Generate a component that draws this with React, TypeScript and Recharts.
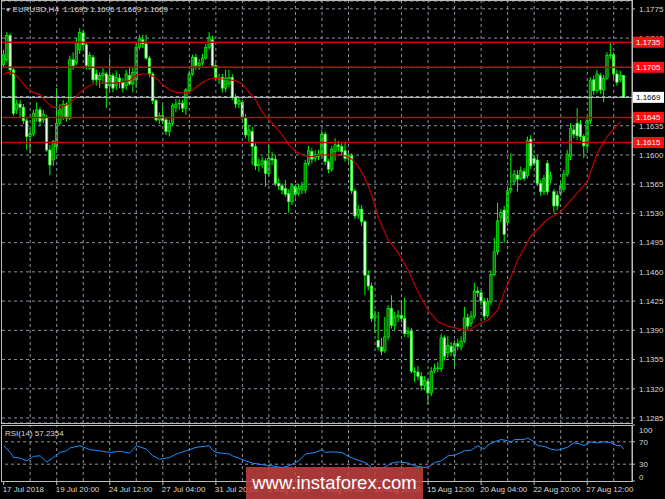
import {
  ComposedChart,
  Bar,
  Line,
  XAxis,
  YAxis,
  CartesianGrid,
  ReferenceLine,
} from "recharts";

const FONT = '"Liberation Sans", Arial, sans-serif';

// EURUSD H4 candles, first bar = 17 Jul 2018 04:00
const opens = [
  1.1708, 1.1714, 1.1743, 1.1702, 1.1654, 1.1661, 1.1657, 1.1641, 1.1622, 1.1625,
  1.1644, 1.1654, 1.1642, 1.1645, 1.1606, 1.1594, 1.1610, 1.1638, 1.1645, 1.1661,
  1.1644, 1.1714, 1.1711, 1.1726, 1.1746, 1.1732, 1.1704, 1.1717, 1.1697, 1.1690,
  1.1695, 1.1697, 1.1683, 1.1695, 1.1683, 1.1692, 1.1687, 1.1683, 1.1695, 1.1685,
  1.1690, 1.1729, 1.1738, 1.1733, 1.1716, 1.1697, 1.1665, 1.1642, 1.1647, 1.1642,
  1.1628, 1.1638, 1.1657, 1.1661, 1.1662, 1.1656, 1.1677, 1.1697, 1.1717, 1.1707,
  1.1710, 1.1716, 1.1729, 1.1738, 1.1707, 1.1692, 1.1693, 1.1680, 1.1685, 1.1693,
  1.1669, 1.1661, 1.1663, 1.1645, 1.1624, 1.1628, 1.1610, 1.1587, 1.1589, 1.1593,
  1.1578, 1.1596, 1.1595, 1.1566, 1.1563, 1.1560, 1.1554, 1.1544, 1.1562, 1.1554,
  1.1558, 1.1558, 1.1590, 1.1604, 1.1596, 1.1598, 1.1601, 1.1625, 1.1592, 1.1583,
  1.1604, 1.1612, 1.1610, 1.1605, 1.1596, 1.1599, 1.1557, 1.1528, 1.1535, 1.1520,
  1.1456, 1.1443, 1.1405, 1.1378, 1.1370, 1.1366, 1.1382, 1.1416, 1.1396, 1.1406,
  1.1408, 1.1404, 1.1386, 1.1389, 1.1341, 1.1340, 1.1335, 1.1324, 1.1329, 1.1315,
  1.1342, 1.1344, 1.1344, 1.1381, 1.1363, 1.1371, 1.1359, 1.1374, 1.1370, 1.1377,
  1.1405, 1.1398, 1.1407, 1.1437, 1.1435, 1.1425, 1.1408, 1.1424, 1.1457, 1.1484,
  1.1525, 1.1534, 1.1519, 1.1558, 1.1568, 1.1576, 1.1572, 1.1580, 1.1575, 1.1619,
  1.1596, 1.1594, 1.1566, 1.1556, 1.1590, 1.1571, 1.1556, 1.1552, 1.1554, 1.1559,
  1.1577, 1.1598, 1.1630, 1.1638, 1.1637, 1.1622, 1.1611, 1.1641, 1.1690, 1.1677,
  1.1695, 1.1678, 1.1692, 1.1719, 1.1720, 1.1697, 1.1690, 1.1695,
];

const highs = [
  1.1726, 1.1747, 1.1746, 1.1704, 1.1666, 1.1666, 1.1661, 1.1644, 1.1632, 1.1654,
  1.1663, 1.1657, 1.1654, 1.1648, 1.1612, 1.1618, 1.1680, 1.1661, 1.1666, 1.1663,
  1.1719, 1.1723, 1.1740, 1.1752, 1.1750, 1.1735, 1.1723, 1.1720, 1.1702, 1.1699,
  1.1704, 1.1699, 1.1717, 1.1698, 1.1701, 1.1697, 1.1692, 1.1702, 1.1704, 1.1704,
  1.1733, 1.1744, 1.1744, 1.1744, 1.1719, 1.1699, 1.1667, 1.1651, 1.1660, 1.1645,
  1.1642, 1.1662, 1.1667, 1.1667, 1.1666, 1.1680, 1.1701, 1.1720, 1.1721, 1.1715,
  1.1721, 1.1733, 1.1747, 1.1743, 1.1710, 1.1697, 1.1697, 1.1702, 1.1702, 1.1697,
  1.1673, 1.1669, 1.1666, 1.1649, 1.1635, 1.1634, 1.1614, 1.1596, 1.1598, 1.1596,
  1.1612, 1.1604, 1.1600, 1.1572, 1.1566, 1.1570, 1.1559, 1.1566, 1.1565, 1.1565,
  1.1568, 1.1594, 1.1611, 1.1608, 1.1606, 1.1606, 1.1630, 1.1628, 1.1595, 1.1611,
  1.1620, 1.1617, 1.1614, 1.1616, 1.1604, 1.1602, 1.1560, 1.1540, 1.1540, 1.1522,
  1.1462, 1.1447, 1.1414, 1.1412, 1.1381, 1.1406, 1.1420, 1.1432, 1.1412, 1.1414,
  1.1424, 1.1429, 1.1394, 1.1393, 1.1346, 1.1347, 1.1340, 1.1335, 1.1332, 1.1346,
  1.1350, 1.1352, 1.1386, 1.1384, 1.1383, 1.1376, 1.1378, 1.1380, 1.1383, 1.1418,
  1.1410, 1.1413, 1.1447, 1.1442, 1.1438, 1.1429, 1.1429, 1.1462, 1.1501, 1.1543,
  1.1535, 1.1539, 1.1562, 1.1602, 1.1582, 1.1582, 1.1586, 1.1584, 1.1622, 1.1624,
  1.1601, 1.1599, 1.1570, 1.1576, 1.1594, 1.1580, 1.1559, 1.1557, 1.1568, 1.1582,
  1.1606, 1.1638, 1.1635, 1.1656, 1.1642, 1.1625, 1.1645, 1.1693, 1.1695, 1.1702,
  1.1698, 1.1696, 1.1723, 1.1735, 1.1723, 1.1702, 1.1701, 1.1696,
];

const lows = [
  1.1704, 1.1711, 1.1696, 1.1647, 1.1649, 1.1645, 1.1637, 1.1606, 1.1602, 1.1622,
  1.1640, 1.1635, 1.1638, 1.1604, 1.1576, 1.1587, 1.1606, 1.1635, 1.1642, 1.1640,
  1.1642, 1.1702, 1.1708, 1.1721, 1.1728, 1.1702, 1.1702, 1.1686, 1.1683, 1.1680,
  1.1687, 1.1656, 1.1678, 1.1675, 1.1678, 1.1680, 1.1675, 1.1678, 1.1683, 1.1675,
  1.1680, 1.1726, 1.1728, 1.1714, 1.1693, 1.1661, 1.1640, 1.1637, 1.1637, 1.1624,
  1.1622, 1.1635, 1.1651, 1.1654, 1.1651, 1.1648, 1.1673, 1.1695, 1.1702, 1.1702,
  1.1707, 1.1714, 1.1726, 1.1704, 1.1689, 1.1685, 1.1675, 1.1675, 1.1681, 1.1666,
  1.1656, 1.1656, 1.1642, 1.1620, 1.1616, 1.1588, 1.1582, 1.1580, 1.1584, 1.1562,
  1.1575, 1.1588, 1.1563, 1.1558, 1.1553, 1.1550, 1.1531, 1.1540, 1.1549, 1.1551,
  1.1553, 1.1554, 1.1587, 1.1590, 1.1592, 1.1594, 1.1598, 1.1588, 1.1578, 1.1580,
  1.1593, 1.1604, 1.1599, 1.1592, 1.1592, 1.1553, 1.1523, 1.1523, 1.1515, 1.1432,
  1.1438, 1.1400, 1.1387, 1.1366, 1.1360, 1.1363, 1.1378, 1.1392, 1.1390, 1.1400,
  1.1399, 1.1382, 1.1381, 1.1338, 1.1328, 1.1330, 1.1318, 1.1318, 1.1301, 1.1311,
  1.1339, 1.1340, 1.1340, 1.1354, 1.1357, 1.1359, 1.1346, 1.1366, 1.1366, 1.1375,
  1.1390, 1.1394, 1.1404, 1.1430, 1.1420, 1.1402, 1.1405, 1.1420, 1.1455, 1.1480,
  1.1520, 1.1495, 1.1515, 1.1554, 1.1564, 1.1556, 1.1570, 1.1569, 1.1572, 1.1583,
  1.1587, 1.1563, 1.1551, 1.1552, 1.1552, 1.1566, 1.1531, 1.1534, 1.1551, 1.1556,
  1.1574, 1.1594, 1.1620, 1.1618, 1.1617, 1.1596, 1.1606, 1.1637, 1.1672, 1.1674,
  1.1673, 1.1663, 1.1690, 1.1715, 1.1692, 1.1683, 1.1687, 1.1669,
];

const closes = [
  1.1720, 1.1743, 1.1702, 1.1650, 1.1661, 1.1657, 1.1641, 1.1622, 1.1625, 1.1650,
  1.1654, 1.1640, 1.1649, 1.1606, 1.1588, 1.1616, 1.1638, 1.1654, 1.1661, 1.1644,
  1.1714, 1.1707, 1.1735, 1.1747, 1.1732, 1.1707, 1.1719, 1.1690, 1.1690, 1.1695,
  1.1698, 1.1680, 1.1695, 1.1680, 1.1693, 1.1687, 1.1680, 1.1697, 1.1685, 1.1699,
  1.1729, 1.1739, 1.1733, 1.1716, 1.1697, 1.1665, 1.1642, 1.1647, 1.1641, 1.1628,
  1.1638, 1.1659, 1.1661, 1.1662, 1.1656, 1.1678, 1.1697, 1.1717, 1.1707, 1.1710,
  1.1716, 1.1729, 1.1741, 1.1707, 1.1692, 1.1691, 1.1680, 1.1692, 1.1693, 1.1669,
  1.1661, 1.1665, 1.1645, 1.1624, 1.1630, 1.1610, 1.1587, 1.1589, 1.1593, 1.1578,
  1.1596, 1.1594, 1.1566, 1.1563, 1.1558, 1.1553, 1.1544, 1.1563, 1.1553, 1.1560,
  1.1563, 1.1590, 1.1605, 1.1595, 1.1600, 1.1601, 1.1625, 1.1592, 1.1583, 1.1607,
  1.1612, 1.1610, 1.1604, 1.1596, 1.1599, 1.1557, 1.1527, 1.1535, 1.1520, 1.1456,
  1.1443, 1.1404, 1.1408, 1.1370, 1.1365, 1.1382, 1.1416, 1.1396, 1.1406, 1.1408,
  1.1404, 1.1386, 1.1389, 1.1341, 1.1340, 1.1335, 1.1324, 1.1330, 1.1315, 1.1341,
  1.1344, 1.1345, 1.1381, 1.1359, 1.1372, 1.1364, 1.1374, 1.1371, 1.1377, 1.1405,
  1.1395, 1.1407, 1.1437, 1.1435, 1.1425, 1.1407, 1.1424, 1.1457, 1.1484, 1.1521,
  1.1531, 1.1505, 1.1557, 1.1560, 1.1577, 1.1571, 1.1581, 1.1572, 1.1617, 1.1587,
  1.1590, 1.1566, 1.1556, 1.1572, 1.1556, 1.1575, 1.1539, 1.1539, 1.1563, 1.1577,
  1.1601, 1.1632, 1.1625, 1.1623, 1.1622, 1.1611, 1.1641, 1.1689, 1.1677, 1.1697,
  1.1678, 1.1692, 1.1719, 1.1720, 1.1697, 1.1687, 1.1695, 1.1669,
];

// red moving average at these bars
const maBars = [
  0, 1, 3, 5, 7, 9, 11, 13, 15, 17, 19, 21, 23, 25, 27, 29, 31, 33, 35, 38,
  40, 42, 44, 46, 48, 50, 52, 54, 56, 58, 60, 62, 64, 66, 68, 70, 72, 74, 76, 78,
  81, 84, 86, 88, 91, 93, 95, 98, 101, 103, 105, 107, 109, 111, 113, 116, 119, 122, 125, 128,
  131, 134, 137, 140, 142, 144, 146, 149, 151, 153, 155, 159, 164, 168, 172, 176, 179, 182, 186,
];
const maValues = [
  1.1696, 1.1699, 1.1698, 1.169, 1.168, 1.1675, 1.1672, 1.1663, 1.1657, 1.1657,
  1.166, 1.1666, 1.1675, 1.1681, 1.1685, 1.1686, 1.1686, 1.1686, 1.1687, 1.1689,
  1.1696, 1.1697, 1.1697, 1.1692, 1.1684, 1.1678, 1.1675, 1.1674, 1.1675, 1.1681,
  1.1687, 1.1691, 1.1692, 1.1691, 1.169, 1.1689, 1.1685, 1.1675, 1.1666, 1.1651,
  1.1638, 1.1624, 1.1612, 1.1604, 1.1599, 1.1598, 1.16, 1.16, 1.16, 1.1599,
  1.1595, 1.1586, 1.1572, 1.1552, 1.1525, 1.1498, 1.1483, 1.1462, 1.1436, 1.1414,
  1.14, 1.1395, 1.1392, 1.139, 1.1394, 1.1399, 1.1402, 1.1414, 1.1436, 1.1454,
  1.1474, 1.1503, 1.1523, 1.1532, 1.155, 1.1568, 1.1602, 1.1622, 1.164,
];

// RSI(14)
const rsiBars = [
  0, 2, 3, 5, 7, 9, 11, 13, 15, 17, 19, 20, 23, 26, 30, 32, 35, 38, 39, 40,
  43, 45, 47, 50, 52, 55, 58, 62, 63, 64, 68, 69, 73, 75, 78, 81, 84, 86, 88, 89,
  91, 94, 96, 97, 99, 102, 104, 106, 109, 111, 113, 115, 117, 119, 122, 124, 127, 128, 130, 132,
  134, 136, 139, 141, 143, 145, 146, 148, 150, 152, 153, 154, 157, 158, 160, 161, 163, 165, 167, 170,
  172, 174, 175, 177, 179, 181, 183, 185, 186, 187,
];
const rsiValues = [
  63, 51, 42, 41, 36, 44, 45, 34, 42, 51, 54, 59, 63, 56, 53, 51, 53, 50, 56, 63,
  57, 45, 39, 42, 48, 54, 60, 63, 55, 51, 48, 45, 36, 32, 29, 27, 24, 27, 33, 36,
  48, 51, 56, 51, 52, 51, 44, 39, 33, 24, 22, 25, 32, 34, 32, 27, 24, 25, 33, 36,
  45, 46, 54, 55, 63, 57, 64, 70, 74, 72, 68, 74, 74, 77, 70, 63, 62, 57, 55, 60,
  68, 66, 63, 70, 68, 70, 69, 63, 64, 57,
];

const timeLabels = [
  "17 Jul 2018", "19 Jul 20:00", "24 Jul 12:00", "27 Jul 04:00",
  "31 Jul 20:00", "3 Aug 12:00", "8 Aug 04:00", "10 Aug 20:00",
  "15 Aug 12:00", "20 Aug 04:00", "22 Aug 20:00", "27 Aug 12:00",
];
const timeLabelBars = [0, 16, 32, 48, 64, 80, 96, 112, 128, 144, 160, 176];

const priceTicks = [
  1.1285, 1.132, 1.1355, 1.139, 1.1425, 1.146, 1.1495, 1.153,
  1.1565, 1.16, 1.1635, 1.167, 1.1705, 1.174, 1.1775,
];
const levels = [1.1735, 1.1705, 1.1645, 1.1615];
const bid = 1.1669;
const rsiTicks = [0, 30, 70, 100];
const rsiLevels = [70, 30];
const header = ["1.1695", "1.1696", "1.1669", "1.1669"];

const gridBars = Array.from({ length: 23 }, (_, k) => 8 + k * 8);

const rows = Array.from({ length: opens.length + 2 }, (_, i) => {
  const has = i < opens.length;
  const mi = maBars.indexOf(i);
  const ri = rsiBars.indexOf(i);
  return {
    i,
    o: has ? opens[i] : null,
    h: has ? highs[i] : null,
    l: has ? lows[i] : null,
    c: has ? closes[i] : null,
    range: has ? [lows[i], highs[i]] : null,
    ma: mi >= 0 ? maValues[mi] : null,
    rsi: ri >= 0 ? rsiValues[ri] : null,
  };
});

const GRID = "#8d95a3";
const AXIS = "#bdbdbd";
const TEXT = "#d9d9d9";
const PRICE_DOMAIN = [1.1279, 1.17844];
const MAIN_MARGIN = { top: 1, right: 0, bottom: 1, left: 2 };

const Candle = (props: any) => {
  const { x, y, width, height, payload } = props;
  if (!payload || payload.h == null || !height) return <g />;
  const top = Math.min(y, y + height);
  const span = Math.abs(height);
  const py = (p: number) => top + ((payload.h - p) / (payload.h - payload.l)) * span;
  const cx = x + width / 2;
  const yo = py(payload.o);
  const yc = py(payload.c);
  const bull = payload.c >= payload.o;
  const bw = 2.4;
  return (
    <g>
      <line x1={cx} x2={cx} y1={top} y2={top + span} stroke="#00ff00" strokeWidth={1} />
      <rect
        x={cx - bw / 2}
        y={Math.min(yo, yc)}
        width={bw}
        height={Math.max(Math.abs(yc - yo), 0.8)}
        fill={bull ? "#087a08" : "#e8ffe8"}
        stroke="#00ff00"
        strokeWidth={0.7}
      />
    </g>
  );
};

const PriceTag = (props: any) => {
  const { viewBox, text, bg, fg } = props;
  if (!viewBox) return null;
  const x = viewBox.x + viewBox.width + 1;
  const y = viewBox.y;
  return (
    <g>
      <rect x={x} y={y - 5.5} width={31} height={11} fill={bg} />
      <text x={x + 3} y={y + 3} fontSize={8} fill={fg} fontFamily={FONT}>
        {text}
      </text>
    </g>
  );
};

const TimeTick = (props: any) => {
  const { x, y, payload } = props;
  const k = timeLabelBars.indexOf(payload.value);
  return (
    <text x={x - 1} y={y} dy="0.71em" fontSize={8} fill={TEXT} fontFamily={FONT}>
      {k >= 0 ? timeLabels[k] : ""}
    </text>
  );
};

const RsiTick = (props: any) => {
  const { x, y, payload } = props;
  const v = payload.value;
  const shift = v === 100 ? 5 : v === 0 ? -4 : 0;
  return (
    <text x={x} y={y + shift} dy="0.355em" fontSize={8} fill={TEXT} fontFamily={FONT}>
      {v}
    </text>
  );
};

const App = () => {
  return (
    <div
      style={{
        position: "fixed",
        left: 0,
        top: 0,
        width: 665,
        height: 499,
        background: "#000",
        overflow: "hidden",
        fontFamily: FONT,
      }}
    >
      <div style={{ position: "absolute", left: 0, top: 0 }}>
        <ComposedChart
          width={665}
          height={424}
          data={rows}
          margin={MAIN_MARGIN}
          barCategoryGap={0}
        >
          <CartesianGrid vertical={false} stroke={GRID} strokeDasharray="3 3" />
          <XAxis dataKey="i" scale="band" hide />
          <YAxis
            orientation="right"
            width={33}
            domain={PRICE_DOMAIN}
            allowDataOverflow
            ticks={priceTicks}
            interval={0}
            tickFormatter={(v: number) => v.toFixed(4)}
            tick={{ fill: TEXT, fontSize: 8, fontFamily: FONT }}
            tickSize={3}
            tickMargin={4}
            tickLine={{ stroke: AXIS }}
            axisLine={{ stroke: AXIS }}
          />
          {gridBars.map((b) => (
            <ReferenceLine key={"g" + b} x={b} stroke={GRID} strokeDasharray="3 3" />
          ))}
          <ReferenceLine y={bid} stroke="#c8c8c8" strokeWidth={1} />
          {levels.map((lv) => (
            <ReferenceLine key={"lv" + lv} y={lv} stroke="#c80000" strokeWidth={1.5} />
          ))}
          <Bar dataKey="range" shape={Candle} isAnimationActive={false} />
          <Line
            dataKey="ma"
            type="linear"
            stroke="#c00000"
            strokeWidth={1.2}
            dot={false}
            connectNulls
            isAnimationActive={false}
          />
        </ComposedChart>
      </div>

      {/* price tags on the right scale, drawn above the tick labels */}
      <div style={{ position: "absolute", left: 0, top: 0, pointerEvents: "none" }}>
        <ComposedChart width={665} height={424} data={rows} margin={MAIN_MARGIN}>
          <XAxis dataKey="i" scale="band" hide />
          <YAxis
            orientation="right"
            width={33}
            domain={PRICE_DOMAIN}
            allowDataOverflow
            tick={false}
            tickLine={false}
            axisLine={false}
          />
          <ReferenceLine
            y={bid}
            stroke="transparent"
            label={<PriceTag text={bid.toFixed(4)} bg="#ffffff" fg="#000000" />}
          />
          {levels.map((lv) => (
            <ReferenceLine
              key={"tag" + lv}
              y={lv}
              stroke="transparent"
              label={<PriceTag text={lv.toFixed(4)} bg="#ff1010" fg="#ffffff" />}
            />
          ))}
        </ComposedChart>
      </div>

      <div style={{ position: "absolute", left: 0, top: 424 }}>
        <ComposedChart
          width={665}
          height={75}
          data={rows}
          margin={{ top: 1, right: 0, bottom: 0, left: 2 }}
        >
          <XAxis
            dataKey="i"
            scale="band"
            ticks={timeLabelBars}
            interval={0}
            height={18}
            tick={<TimeTick />}
            tickSize={4}
            tickMargin={1}
            tickLine={{ stroke: AXIS }}
            axisLine={false}
          />
          <YAxis
            orientation="right"
            width={33}
            domain={[0, 100]}
            ticks={rsiTicks}
            interval={0}
            tick={<RsiTick />}
            tickSize={3}
            tickMargin={4}
            tickLine={{ stroke: AXIS }}
            axisLine={{ stroke: AXIS }}
          />
          {gridBars.map((b) => (
            <ReferenceLine key={"rg" + b} x={b} stroke={GRID} strokeDasharray="3 3" />
          ))}
          {rsiLevels.map((lv) => (
            <ReferenceLine key={"rl" + lv} y={lv} stroke={GRID} strokeDasharray="3 3" />
          ))}
          <Line
            dataKey="rsi"
            type="linear"
            stroke="#1e8fff"
            strokeWidth={1}
            dot={false}
            connectNulls
            isAnimationActive={false}
          />
        </ComposedChart>
      </div>

      {/* panel frames */}
      <div
        style={{
          position: "absolute",
          left: 1,
          top: 0,
          width: 632,
          height: 424,
          boxSizing: "border-box",
          border: "1px solid " + AXIS,
          pointerEvents: "none",
        }}
      />
      <div
        style={{
          position: "absolute",
          left: 1,
          top: 425,
          width: 632,
          height: 57,
          boxSizing: "border-box",
          border: "1px solid " + AXIS,
          pointerEvents: "none",
        }}
      />

      <div
        style={{
          position: "absolute",
          left: 5,
          top: 5,
          fontSize: 8,
          color: TEXT,
          whiteSpace: "pre",
          lineHeight: "10px",
        }}
      >
        <span style={{ fontSize: 6 }}>▼ </span>
        {"EURUSD,H4  " + header.join(" ")}
      </div>
      <div
        style={{
          position: "absolute",
          left: 5,
          top: 429,
          fontSize: 8,
          color: TEXT,
          lineHeight: "10px",
        }}
      >
        RSI(14) 57.2354
      </div>

      <div
        style={{
          position: "absolute",
          left: 246,
          top: 467,
          width: 177,
          height: 32,
          background: "rgba(196, 64, 64, 0.86)",
          color: "#ffffff",
          fontSize: 18.5,
          lineHeight: "32px",
          textAlign: "center",
        }}
      >
        www.instaforex.com
      </div>
    </div>
  );
};

export default App;
